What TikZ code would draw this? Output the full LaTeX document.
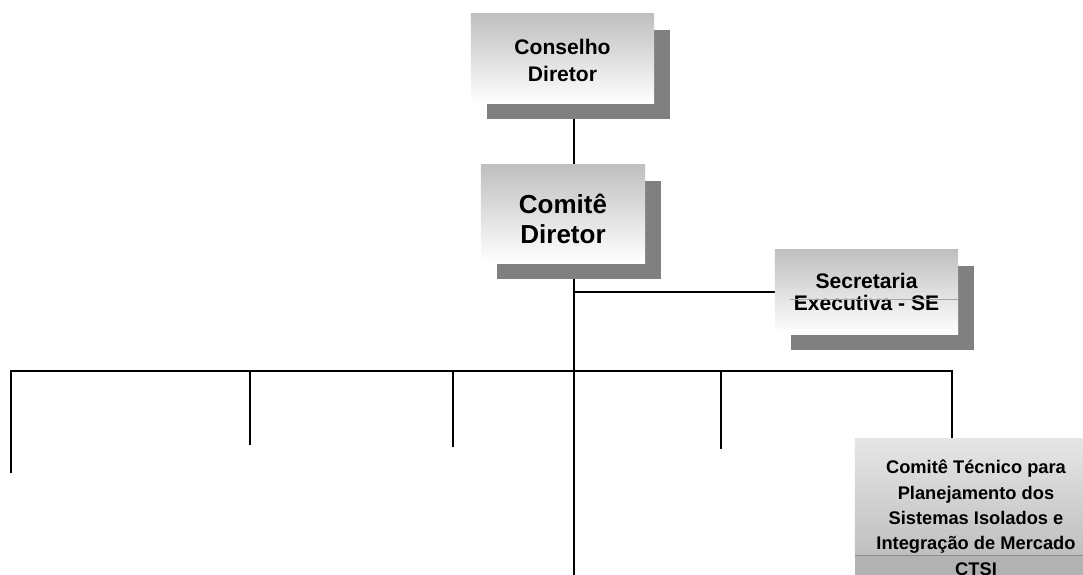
\documentclass[tikz,border=0pt]{standalone}
\usepackage{fontspec}
\setmainfont{Liberation Sans}
\usetikzlibrary{shadows,backgrounds,calc,positioning}
\tikzstyle{line} = [draw, line width=1.3pt]
\tikzstyle{orgbox} = [rectangle, align=center, inner sep=0pt,
  top color=gray!50, bottom color=white,
  general shadow={fill=gray, shadow xshift=0.4cm, shadow yshift=-0.4cm}]
\tikzstyle{ctbox} = [rectangle, align=center, inner sep=0pt,
  top color=gray!20, bottom color=gray!50]
\tikzstyle{band} = [rectangle, fill=gray!60, inner sep=0pt]

\begin{document}
\begin{tikzpicture}[x=0.025cm, y=-0.025cm]
  \useasboundingbox (0,0) rectangle (1083,574);
  \node [orgbox, minimum width=4.575cm, minimum height=2.225cm,
         font={\bfseries\fontsize{15}{19}\selectfont}] at (562.5,58.5) (conselho)
    {\rule{0pt}{14pt}Conselho\\ Diretor};
  \node [orgbox, minimum width=4.1cm, minimum height=2.45cm,
         font={\bfseries\fontsize{18.5}{21.5}\selectfont}] at (563,214) (comite)
    {\rule{0pt}{21pt}Comitê\\ Diretor};
  \node [orgbox, minimum width=4.575cm, minimum height=2.1cm,
         font={\bfseries\fontsize{15}{15.4}\selectfont}] at (866.5,292) (secretaria)
    {Secretaria\\ Executiva - SE};
  \node [ctbox, minimum width=6.05cm, minimum height=2.9cm,
         font={\bfseries\fontsize{13}{18}\selectfont}] at (976,497) (ctsi)
    {\rule{0pt}{24pt}Comitê Técnico para\\ Planejamento dos\\ Sistemas Isolados e\\ Integração de Mercado};
  \node [band, below=0pt of ctsi, minimum width=6.05cm, minimum height=0.7cm,
         font={\bfseries\fontsize{13}{15}\selectfont}] (sigla) {CTSI};
  \draw [black!45, line width=0.8pt] (ctsi.south west) -- (ctsi.south east);
  \draw [gray!70, line width=0.5pt] ($(secretaria.west)+(15,7)$) -- ($(secretaria.east)+(0,7)$);

  \coordinate (trunk) at (574,580);
  \coordinate (bus west) at (11,371);
  \coordinate (bus east) at (952,371);
  \coordinate (end1) at (11,473);
  \coordinate (end2) at (250,445);
  \coordinate (end3) at (453,447);
  \coordinate (end4) at (721,449);
  \begin{scope}[on background layer]
    \path [line] (conselho.south -| trunk) -- (comite.north -| trunk);
    \path [line] (comite.south -| trunk) -- (trunk);
    \path [line] (secretaria.west -| trunk) -- (secretaria.west);
    \path [line] (end1) -- (bus west) -- (bus east) -- (bus east |- ctsi.north);
    \path [line] (end2 |- bus west) -- (end2);
    \path [line] (end3 |- bus west) -- (end3);
    \path [line] (end4 |- bus west) -- (end4);
  \end{scope}
\end{tikzpicture}
\end{document}
